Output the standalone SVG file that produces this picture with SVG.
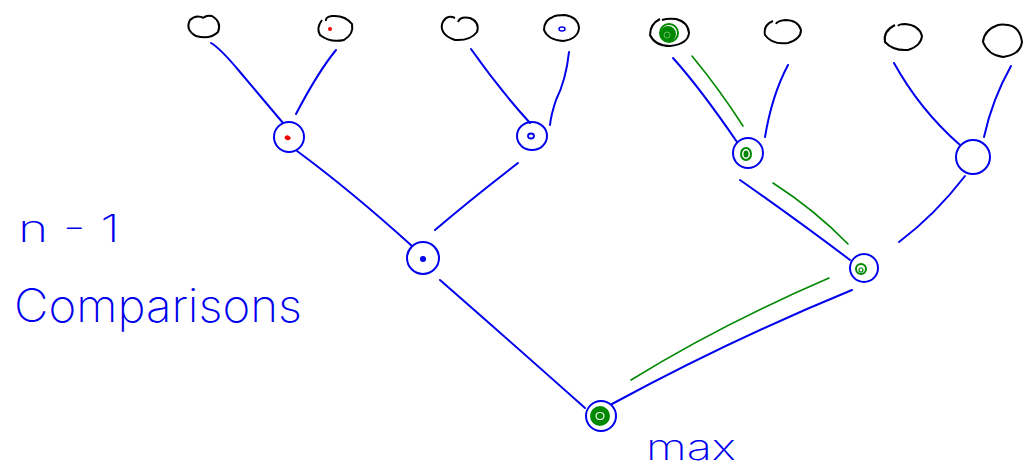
<svg xmlns="http://www.w3.org/2000/svg" width="1024" height="468" viewBox="0 0 1024 468">
<style>
.leaf{fill:none;stroke:#000;stroke-width:2}
.node{fill:none;stroke:#0000ee;stroke-width:2}
.edge{fill:none;stroke:#0000ee;stroke-width:2;stroke-linecap:round}
.win{fill:none;stroke:#008800;stroke-width:1.6;stroke-linecap:round}
.g{fill:none;stroke:#008800;stroke-width:2}
.lbl{font-family:Inter,"Liberation Sans",Arial,sans-serif;font-weight:200;fill:#0000ee}
</style>
<rect width="1024" height="468" fill="#fff"/>
<g id="connectors">
<path class="edge" d="M211,43 Q220,48 240,72 Q262,98 283,123"/>
<path class="edge" d="M336,50 Q318,72 296,114"/>
<path class="edge" d="M471,49 Q500,90 530,123"/>
<path class="edge" d="M569,52 Q566,80 556,100 Q551,115 550,125"/>
<path class="edge" d="M673,58 Q700,88 737,142"/>
<path class="edge" d="M788,65 Q772,95 765,137"/>
<path class="edge" d="M894,63 Q920,110 960,145"/>
<path class="edge" d="M1011,66 Q992,100 984,137"/>
<path class="edge" d="M297,151 Q350,190 412,246"/>
<path class="edge" d="M518,163 Q470,200 435,230"/>
<path class="edge" d="M740,180 Q800,222 850,260"/>
<path class="edge" d="M965,176 Q935,215 899,242"/>
<path class="edge" d="M440,280 Q520,350 585,408"/>
<path class="edge" d="M852,290 Q730,340 612,404"/>
<path class="win" d="M692,56 Q720,90 743,126"/>
<path class="win" d="M773,183 Q815,210 848,244"/>
<path class="win" d="M829,278 Q720,325 631,380"/>
</g>
<g id="leaf1"><path class="leaf" d="M204,18 Q196,14 190,20 Q185,30 196,36 Q210,40 218,32 Q222,22 212,16 Q205,15 204,18"/></g>
<g id="leaf2"><path class="leaf" d="M322,20 Q316,28 320,35 Q330,43 344,40 Q354,34 352,24 Q345,15 332,16 Q325,17 326,21"/><circle cx="330" cy="29" r="2" fill="#ee0000"/></g>
<g id="leaf3"><path class="leaf" d="M455,18 Q446,14 442,24 Q440,35 455,40 Q470,41 477,32 Q480,22 470,18 Q460,16 458,22"/></g>
<g id="leaf4"><path class="leaf" d="M553,17 Q544,20 544,30 Q548,40 563,41 Q578,39 579,28 Q578,17 565,15 Q555,15 553,17"/><ellipse cx="562" cy="29" rx="3" ry="2" fill="none" stroke="#0000ee" stroke-width="1.5"/></g>
<g id="leaf5"><path class="leaf" d="M660,19 Q650,24 650,35 Q655,46 670,46 Q688,44 689,33 Q688,22 676,19 Q668,18 662,20"/><ellipse cx="668" cy="34" rx="7" ry="7" fill="#008800" stroke="#008800" stroke-width="2"/><ellipse cx="669" cy="33" rx="9" ry="9" class="g"/><ellipse cx="667" cy="35" rx="3" ry="3" fill="none" stroke="#66bb66" stroke-width="1"/></g>
<g id="leaf6"><path class="leaf" d="M773,21 Q763,25 765,35 Q772,45 788,43 Q801,39 801,30 Q798,20 785,20 Q777,21 776,24"/></g>
<g id="leaf7"><path class="leaf" d="M895,25 Q883,31 885,42 Q893,51 908,50 Q921,46 922,36 Q919,25 905,24 Q899,24 898,26"/></g>
<g id="leaf8"><path class="leaf" d="M998,25 Q984,30 983,42 Q988,55 1003,57 Q1020,55 1022,42 Q1020,27 1008,25 Q1002,24 998,25"/></g>
<g id="n1"><circle class="node" cx="289" cy="137" r="15"/><path d="M285,138 q2,-4 5,0 q-2,3 -5,0" fill="#ee0000" stroke="#ee0000" stroke-width="1.5"/></g>
<g id="n2"><ellipse class="node" cx="532" cy="136" rx="15" ry="14"/><ellipse cx="531" cy="136" rx="3" ry="2.5" fill="none" stroke="#0000ee" stroke-width="1.8"/></g>
<g id="n3"><circle class="node" cx="748" cy="153" r="15"/><ellipse cx="746" cy="154" rx="5" ry="6" class="g"/><ellipse cx="746" cy="154" rx="2.5" ry="3.5" fill="#008800"/></g>
<g id="n4"><circle class="node" cx="973" cy="157" r="17"/></g>
<g id="n5"><circle class="node" cx="423" cy="258" r="16"/><ellipse cx="423" cy="259" rx="3" ry="3" fill="#0000ee"/></g>
<g id="n6"><circle class="node" cx="864" cy="268" r="14"/><ellipse cx="861" cy="269" rx="5" ry="5" class="g"/><ellipse cx="861" cy="270" rx="2" ry="2" fill="none" stroke="#008800" stroke-width="1.2"/></g>
<g id="root"><circle class="node" cx="601" cy="416" r="15"/><circle cx="600" cy="416" r="10" fill="#008800"/><ellipse cx="600" cy="416" rx="4" ry="3.5" fill="none" stroke="#fff" stroke-width="1.2"/></g>
<text class="lbl" x="18" y="242" font-size="38" textLength="102" lengthAdjust="spacingAndGlyphs">n - 1</text>
<text class="lbl" x="14" y="322" font-size="46" textLength="288" lengthAdjust="spacingAndGlyphs">Comparisons</text>
<text class="lbl" x="646" y="460" font-size="36" textLength="90" lengthAdjust="spacingAndGlyphs">max</text>
</svg>
